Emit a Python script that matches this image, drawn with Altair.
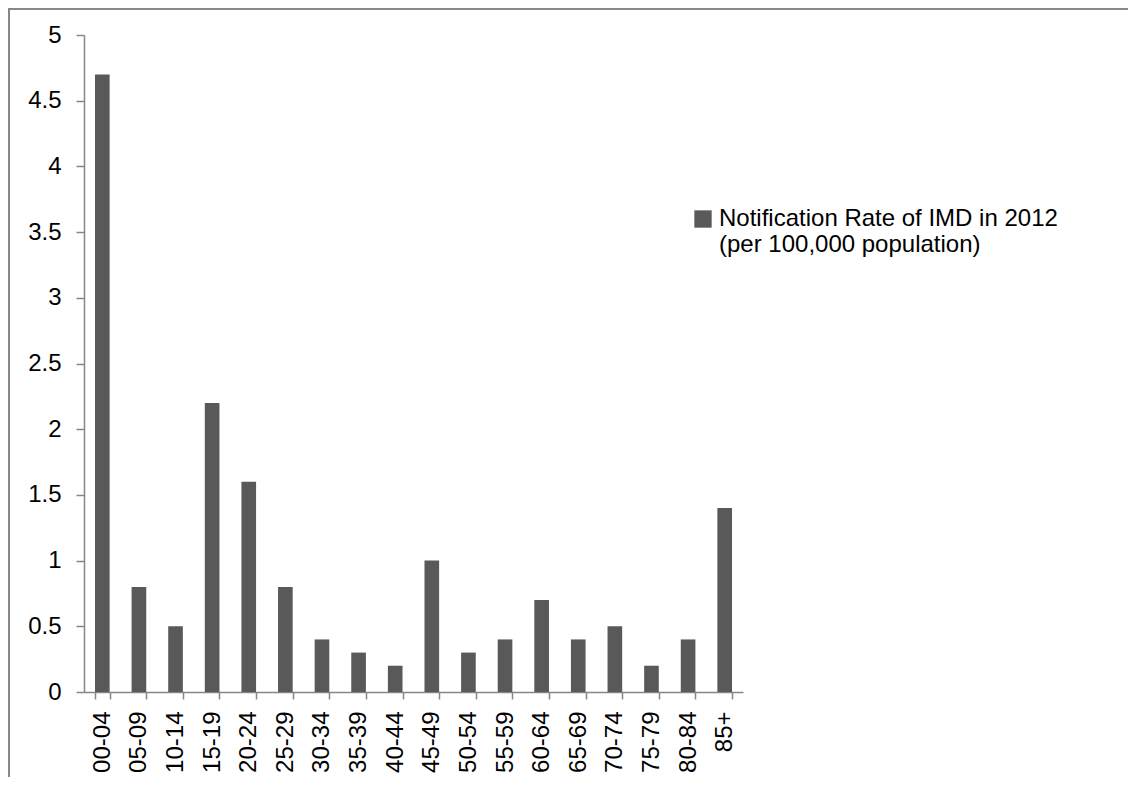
import altair as alt
import pandas as pd

categories = ["00-04", "05-09", "10-14", "15-19", "20-24", "25-29", "30-34", "35-39", "40-44",
              "45-49", "50-54", "55-59", "60-64", "65-69", "70-74", "75-79", "80-84", "85+"]
values = [4.7, 0.8, 0.5, 2.2, 1.6, 0.8, 0.4, 0.3, 0.2, 1.0, 0.3, 0.4, 0.7, 0.4, 0.5, 0.2, 0.4, 1.4]
series_name = "Notification Rate of IMD in 2012|(per 100,000 population)"
y_ticks = [0, 0.5, 1, 1.5, 2, 2.5, 3, 3.5, 4, 4.5, 5]

df = pd.DataFrame({"age": categories, "rate": values, "series": series_name})

FONT = "Liberation Sans"
GREY = "#868686"
FS = 24

bars = alt.Chart(df).mark_bar(color="#595959").encode(
    x=alt.X("age:N", sort=categories, title=None,
            scale=alt.Scale(paddingInner=0.6, paddingOuter=0.3),
            axis=alt.Axis(labelAngle=-90, labelPadding=12, tickBand="extent", tickSize=7)),
    y=alt.Y("rate:Q", title=None,
            scale=alt.Scale(domain=[0, 5], nice=False),
            axis=alt.Axis(values=y_ticks, grid=False, labelPadding=15, tickSize=8,
                          labelExpr="format(datum.value, '')")),
    color=alt.Color("series:N", scale=alt.Scale(range=["#595959"]),
                    legend=alt.Legend(title=None, orient="none", legendX=607, legendY=172,
                                      symbolType="square", symbolSize=300, symbolStrokeWidth=0,
                                      labelExpr="split(datum.label, '|')", labelOffset=4,
                                      labelLimit=500)),
)

border = alt.Chart(df).mark_rect(fill=None, stroke="#888888", strokeWidth=2).encode(
    x=alt.value(-75), x2=alt.value(1200), y=alt.value(-26), y2=alt.value(900)
)

chart = alt.layer(bars, border).properties(
    width=659, height=657,
    background="white",
    autosize=alt.AutoSizeParams(type="none"),
    padding={"left": 76, "top": 27, "right": 385, "bottom": 85},
).configure_view(stroke="transparent", strokeWidth=0).configure_axis(
    grid=False, labelFontSize=FS, labelFont=FONT, labelColor="#000000",
    domainColor=GREY, tickColor=GREY, domainWidth=1.5, tickWidth=1.5,
).configure_legend(
    labelFontSize=FS, labelFont=FONT, labelColor="#000000",
)

chart.save("out.html", embed_options={"renderer": "svg", "actions": False})
